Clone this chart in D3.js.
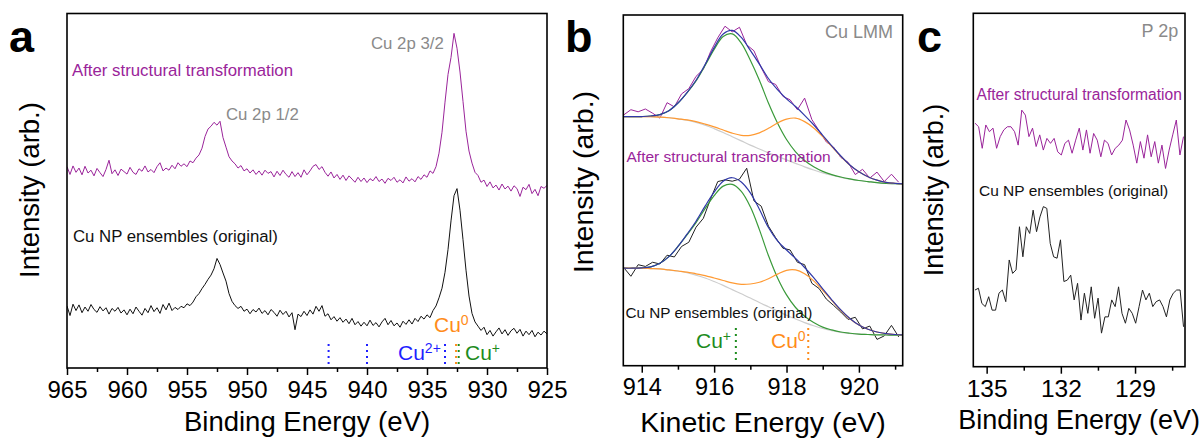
<!DOCTYPE html>
<html>
<head>
<meta charset="utf-8">
<script src="https://cdn.jsdelivr.net/npm/d3@7"></script>
<style>
  html, body { margin: 0; padding: 0; background: #fff; }
  svg { display: block; font-family: "Liberation Sans", Arial, Helvetica, sans-serif; }
</style>
</head>
<body>
<script>
// ---------- (a) Cu 2p survey, binding energy 965 -> 925 eV, 0.25 eV steps ----------
const cu2pEnergy = d3.range(161).map(i => 965 - 0.25 * i);
const cu2pAfter = [
  56.8,54.6,57.0,55.2,56.4,54.5,56.9,55.0,55.8,54.2,56.3,55.1,54.0,56.0,58.6,54.8,55.9,54.3,56.1,55.4,
  54.7,56.6,55.2,54.6,56.2,55.5,57.0,55.3,56.0,55.1,56.8,57.9,55.6,56.4,55.8,57.2,56.2,57.9,56.9,57.6,
  56.8,58.4,57.9,59.2,60.1,62.0,65.3,67.4,68.2,69.3,68.5,69.6,65.0,62.3,59.6,58.4,57.6,56.4,57.1,55.6,
  56.2,55.0,55.9,54.6,55.6,54.4,55.8,54.9,55.4,53.9,55.5,54.3,55.8,54.6,53.8,55.4,54.0,55.1,53.8,55.9,
  54.5,55.6,56.9,57.4,56.0,56.8,55.2,54.1,55.3,53.6,54.6,53.2,54.4,52.9,54.2,53.3,52.4,53.8,52.6,53.6,
  52.3,53.4,52.8,54.0,52.6,53.3,52.1,53.5,52.9,53.8,52.4,53.1,52.2,53.9,52.7,53.4,52.5,54.0,53.2,54.5,
  53.8,55.6,54.9,56.8,60.6,66.5,75.0,82.8,87.6,94.4,90.2,83.5,75.2,66.8,61.2,57.8,55.2,54.3,52.4,53.0,
  51.2,52.5,50.8,51.6,50.2,51.9,50.5,51.3,49.9,51.4,50.6,48.4,51.0,50.3,51.8,49.2,50.4,48.6,51.2,50.7,
  51.5
];
const cu2pOriginal = [
  17.5,14.8,18.0,16.2,17.8,15.6,17.2,16.0,17.9,16.5,15.7,17.3,16.1,17.0,15.2,16.8,16.0,17.1,15.5,16.4,
  15.0,16.6,15.3,17.2,16.0,14.9,16.8,15.6,17.6,15.9,17.0,15.4,17.9,16.4,18.3,16.2,17.1,16.5,17.4,17.0,
  18.1,17.6,18.6,20.1,21.0,22.4,23.6,25.0,26.2,28.0,30.9,29.2,26.8,24.5,21.0,18.8,17.6,16.8,17.4,16.0,
  16.6,15.3,16.5,15.8,16.9,15.4,16.2,15.0,16.5,15.7,14.6,16.3,15.1,16.0,14.4,15.6,10.8,15.2,14.5,16.0,
  14.8,16.4,15.2,17.4,16.0,17.6,14.6,15.3,13.6,14.5,13.2,14.2,12.9,13.8,12.5,14.0,12.2,13.1,11.8,12.9,
  11.9,13.5,12.0,12.8,11.6,13.0,14.0,12.2,13.4,11.9,12.7,11.5,13.2,12.3,13.6,12.4,14.0,13.1,14.6,13.8,
  15.0,14.2,16.2,17.5,19.8,22.5,27.0,33.4,41.5,48.6,50.6,44.5,36.2,27.6,20.3,15.4,13.0,11.8,10.6,11.5,
  9.4,10.6,9.0,10.2,11.3,9.6,10.8,9.2,10.5,11.2,9.8,10.9,9.0,10.4,9.4,10.6,8.8,10.1,9.3,10.4,
  9.6
];
const cu2pTicks = [965, 960, 955, 950, 945, 940, 935, 930, 925];
const cu2pMinorTicks = [962.5, 957.5, 952.5, 947.5, 942.5, 937.5, 932.5, 927.5];
const cu2pStates = [
  { energy: 943.2, color: "#1f1fff" },
  { energy: 940.0, color: "#1f1fff" },
  { energy: 933.5, color: "#1f1fff" },
  { energy: 932.58, color: "#ff8c1a" },
  { energy: 932.36, color: "#1e8c1e" }
];

// ---------- (b) Cu LMM Auger, kinetic energy ----------
const lmmEnergy = d3.range(39).map(i => 913.5 + 0.2 * i);
const lmmAfter = [
  71.5,73.0,72.4,73.2,72.0,70.6,75.0,73.8,77.5,79.0,82.5,84.5,89.5,93.5,96.8,95.2,96.5,91.5,89.8,85.0,
  81.0,80.2,76.8,75.8,73.0,76.3,70.2,67.0,63.8,62.3,59.4,58.0,54.5,56.0,53.5,55.2,52.5,54.6,52.3
];
const lmmOriginal = [
  28.0,25.5,28.8,28.3,29.5,29.0,31.5,31.0,34.0,35.2,39.5,42.0,47.5,52.5,53.0,52.6,53.2,56.3,47.0,45.5,
  39.8,36.5,33.5,33.0,29.5,28.8,23.5,22.0,19.0,17.2,15.3,13.2,13.8,10.5,11.3,7.5,8.5,11.5,8.2
];
// fitted components on a 0.25 eV grid
const lmmFitEnergy = d3.range(32).map(i => 913.5 + 0.25 * i);
const lmmAfterBackground = [71.0,71.0,71.0,71.0,70.9,70.7,70.4,70.0,69.4,68.6,67.6,66.5,65.3,64.1,62.9,61.8,
  60.7,59.7,58.7,57.7,56.7,55.8,55.0,54.3,53.7,53.2,52.8,52.5,52.2,52.0,51.9,51.8];
const lmmAfterCuI = [0,0,0.05,0.2,0.7,2.0,4.5,7.8,11.8,17.0,22.6,27.4,29.3,27.9,24.2,19.6,
  14.2,9.5,5.8,3.3,1.8,0.9,0.4,0.2,0.1,0.05,0,0,0,0,0,0];
const lmmAfterCu0 = [0,0,0,0,0,0,0,0.1,0.2,0.3,0.5,0.7,1.0,1.6,2.8,4.6,
  7.0,9.5,11.6,12.9,12.9,12.0,10.3,8.2,6.0,4.0,2.5,1.4,0.7,0.3,0.1,0];
const lmmOrigBackground = [27.8,27.8,27.8,27.7,27.6,27.3,27.0,26.5,25.8,25.0,24.0,22.9,21.7,20.5,19.3,18.0,
  16.8,15.6,14.4,13.3,12.3,11.4,10.6,10.0,9.5,9.2,9.0,8.9,8.8,8.75,8.7,8.7];
const lmmOrigCuI = [0,0,0.1,0.5,1.6,3.8,7.0,10.8,15.0,19.8,24.5,28.3,30.0,29.2,26.0,20.8,
  14.6,9.5,5.8,3.3,1.8,0.9,0.4,0.2,0.1,0.05,0,0,0,0,0,0];
const lmmOrigCu0 = [0,0,0,0,0,0,0,0.2,0.4,0.7,1.0,1.4,1.9,2.7,4.0,5.8,
  8.0,10.5,12.8,14.0,13.9,12.8,10.9,8.6,6.3,4.2,2.6,1.5,0.8,0.4,0.2,0.1];
const lmmTicks = [914, 916, 918, 920];
const lmmMinorTicks = [915, 917, 919, 921];
const lmmStates = [
  { energy: 916.6, color: "#1e8c1e" },
  { energy: 918.6, color: "#ff8c1a" }
];

// ---------- (c) P 2p ----------
const p2pAfter = [
  68.9,67.9,61.8,68.4,66.5,67.5,61.8,65.1,67.0,67.9,67.9,66.5,62.7,72.6,71.2,65.1,67.5,62.3,65.6,61.3,
  64.6,63.2,64.6,60.8,59.9,63.2,64.1,60.4,64.1,67.5,61.3,67.0,60.4,66.0,64.1,59.4,64.1,63.2,59.9,61.8,
  62.7,64.1,69.8,67.0,62.7,57.6,63.7,59.0,65.6,59.4,63.7,57.6,62.7,56.1,61.3,65.6,69.8,59.9,65.1
];
const p2pOriginal = [
  21.7,22.2,17.9,17.0,19.8,16.0,16.0,20.8,21.7,18.4,30.2,26.4,27.4,39.6,31.1,39.6,37.7,44.3,38.2,42.4,
  45.3,44.8,34.9,31.1,30.7,35.9,24.1,24.5,25.9,18.9,23.6,13.2,20.8,15.1,22.6,13.7,19.4,9.5,14.1,14.1,
  18.9,17.0,22.6,15.1,12.3,16.5,15.1,12.3,17.0,21.7,18.9,20.8,17.0,18.4,18.9,17.0,14.1,18.9,20.8,21.7,
  21.7,11.3
];
const p2pFirst = 135.47, p2pLast = 127.04;
const p2pAfterEnergy = p2pAfter.map((_, i) => p2pFirst - i * (p2pFirst - p2pLast) / (p2pAfter.length - 1));
const p2pOrigEnergy = p2pOriginal.map((_, i) => p2pFirst - i * (p2pFirst - p2pLast) / (p2pOriginal.length - 1));
const p2pTicks = [135, 132, 129];
const p2pMinorTicks = [133.5, 130.5, 127.5];

// ---------- styling ----------
const PURPLE = "#9a249a";
const LABEL_GREY = "#8a8a8a";
const FIT_BLUE = "#2f38a8";
const FIT_GREEN = "#3a9a3a";
const FIT_ORANGE = "#ff9a33";
const FIT_GREY = "#cdcdcd";

const svg = d3.select("body").append("svg").attr("width", 1202).attr("height", 439);

function makePanel(cfg) {
  const g = svg.append("g");
  const x = d3.scaleLinear().domain(cfg.xDomain).range([cfg.left, cfg.right]);
  const y = d3.scaleLinear().domain([0, 100]).range([cfg.bottom, cfg.top]);
  const clip = "clip-" + cfg.id;
  g.append("clipPath").attr("id", clip).append("rect")
    .attr("x", cfg.left).attr("y", cfg.top)
    .attr("width", cfg.right - cfg.left).attr("height", cfg.bottom - cfg.top);
  const plot = g.append("g").attr("clip-path", `url(#${clip})`);

  // minor ticks
  g.append("g").attr("transform", `translate(0,${cfg.bottom})`)
    .call(d3.axisBottom(x).tickValues(cfg.minor).tickSize(4).tickFormat("").tickSizeOuter(0))
    .call(s => s.select(".domain").remove())
    .call(s => s.selectAll("line").attr("stroke", "#000").attr("stroke-width", 1.5));
  // major ticks + labels
  g.append("g").attr("transform", `translate(0,${cfg.bottom})`)
    .call(d3.axisBottom(x).tickValues(cfg.major).tickSize(7).tickPadding(6)
      .tickFormat(d3.format("d")).tickSizeOuter(0))
    .attr("font-family", null).attr("font-size", cfg.tickFont)
    .call(s => s.select(".domain").remove())
    .call(s => s.selectAll("line").attr("stroke", "#000").attr("stroke-width", 1.5))
    .call(s => s.selectAll("text").attr("fill", "#000"));

  // frame
  g.append("rect").attr("x", cfg.left).attr("y", cfg.top)
    .attr("width", cfg.right - cfg.left).attr("height", cfg.bottom - cfg.top)
    .attr("fill", "none").attr("stroke", "#000").attr("stroke-width", 1.6);

  // titles
  g.append("text").attr("x", (cfg.left + cfg.right) / 2).attr("y", cfg.xTitleY)
    .attr("text-anchor", "middle").attr("font-size", cfg.titleFont).text(cfg.xTitle);
  g.append("text")
    .attr("transform", `translate(${cfg.yTitleX},${cfg.yTitleMid}) rotate(-90)`)
    .attr("text-anchor", "middle").attr("font-size", cfg.titleFont).text("Intensity (arb.)");
  g.append("text").attr("x", cfg.letterX).attr("y", 52)
    .attr("font-size", 45).attr("font-weight", "bold").text(cfg.letter);
  return { g, x, y, plot };
}

function trace(p, energy, values, color, width, curve) {
  const line = d3.line().x((d, i) => p.x(energy[i])).y(d => p.y(d)).curve(curve || d3.curveLinear);
  p.plot.append("path").datum(values).attr("d", line)
    .attr("fill", "none").attr("stroke", color).attr("stroke-width", width)
    .attr("stroke-linejoin", "round");
}

function label(p, x, y, size, color, text, sup) {
  const t = p.g.append("text").attr("x", x).attr("y", y).attr("font-size", size).attr("fill", color).text(text);
  if (sup) t.append("tspan").attr("dy", -7).attr("font-size", 14).text(sup);
  return t;
}

function stateMarkers(p, states, y0, y1) {
  states.forEach(s => {
    p.g.append("line").attr("x1", p.x(s.energy)).attr("x2", p.x(s.energy))
      .attr("y1", y0).attr("y2", y1)
      .attr("stroke", s.color).attr("stroke-width", 2).attr("stroke-dasharray", "2,4");
  });
}

// ---------- panel a ----------
const pa = makePanel({
  id: "a", left: 67, right: 547, top: 13.5, bottom: 368,
  xDomain: [965, 925], major: cu2pTicks, minor: cu2pMinorTicks, tickFont: 24,
  xTitle: "Binding Energy (eV)", xTitleY: 431, titleFont: 27.5,
  yTitleX: 38.5, yTitleMid: 190, letter: "a", letterX: 9
});
trace(pa, cu2pEnergy, cu2pAfter, PURPLE, 1);
trace(pa, cu2pEnergy, cu2pOriginal, "#111", 1);
stateMarkers(pa, cu2pStates, 344, 368);
label(pa, 72, 76, 16.8, PURPLE, "After structural transformation");
label(pa, 371, 49, 16.8, LABEL_GREY, "Cu 2p 3/2");
label(pa, 226, 120, 16.8, LABEL_GREY, "Cu 2p 1/2");
label(pa, 73, 241.5, 16.8, "#111", "Cu NP ensembles (original)");
label(pa, 434, 331.5, 21, "#ff8c1a", "Cu", "0");
label(pa, 398, 360, 21, "#1f1fff", "Cu", "2+");
label(pa, 465, 360, 21, "#1e8c1e", "Cu", "+");

// ---------- panel b ----------
const pb = makePanel({
  id: "b", left: 623.3, right: 902.7, top: 15, bottom: 365.7,
  xDomain: [913.49, 921.21], major: lmmTicks, minor: lmmMinorTicks, tickFont: 23.5,
  xTitle: "Kinetic Energy (eV)", xTitleY: 431.5, titleFont: 28.5,
  yTitleX: 593, yTitleMid: 182, letter: "b", letterX: 565
});
trace(pb, lmmEnergy, lmmAfter, PURPLE, 1);
trace(pb, lmmEnergy, lmmOriginal, "#222", 1);
[[lmmAfterBackground, lmmAfterCuI, lmmAfterCu0], [lmmOrigBackground, lmmOrigCuI, lmmOrigCu0]].forEach(([bg, cuI, cu0]) => {
  const smooth = d3.curveCatmullRom;
  trace(pb, lmmFitEnergy, bg, FIT_GREY, 1.2, smooth);
  trace(pb, lmmFitEnergy, bg.map((b, i) => b + cuI[i]), FIT_GREEN, 1.2, smooth);
  trace(pb, lmmFitEnergy, bg.map((b, i) => b + cu0[i]), FIT_ORANGE, 1.2, smooth);
  trace(pb, lmmFitEnergy, bg.map((b, i) => b + cuI[i] + cu0[i]), FIT_BLUE, 1.2, smooth);
});
stateMarkers(pb, lmmStates, 328, 362);
label(pb, 825, 38.3, 18, LABEL_GREY, "Cu LMM");
label(pb, 626.5, 162.3, 15.5, PURPLE, "After structural transformation");
label(pb, 625.5, 318.3, 15.3, "#111", "Cu NP ensembles (original)");
label(pb, 696, 348.3, 21, "#1e8c1e", "Cu", "+");
label(pb, 771, 348.3, 21, "#ff8c1a", "Cu", "0");

// ---------- panel c ----------
const pc = makePanel({
  id: "c", left: 973.3, right: 1185, top: 13.3, bottom: 366.7,
  xDomain: [135.54, 126.98], major: p2pTicks, minor: p2pMinorTicks, tickFont: 24.5,
  xTitle: "Binding Energy (eV)", xTitleY: 428.5, titleFont: 27,
  yTitleX: 943, yTitleMid: 190, letter: "c", letterX: 917
});
trace(pc, p2pAfterEnergy, p2pAfter, PURPLE, 1);
trace(pc, p2pOrigEnergy, p2pOriginal, "#222", 1);
label(pc, 1141.5, 36.7, 18, LABEL_GREY, "P 2p");
label(pc, 976.5, 100, 15.6, PURPLE, "After structural transformation");
label(pc, 979, 196, 15.5, "#111", "Cu NP ensembles (original)");
</script>
</body>
</html>
